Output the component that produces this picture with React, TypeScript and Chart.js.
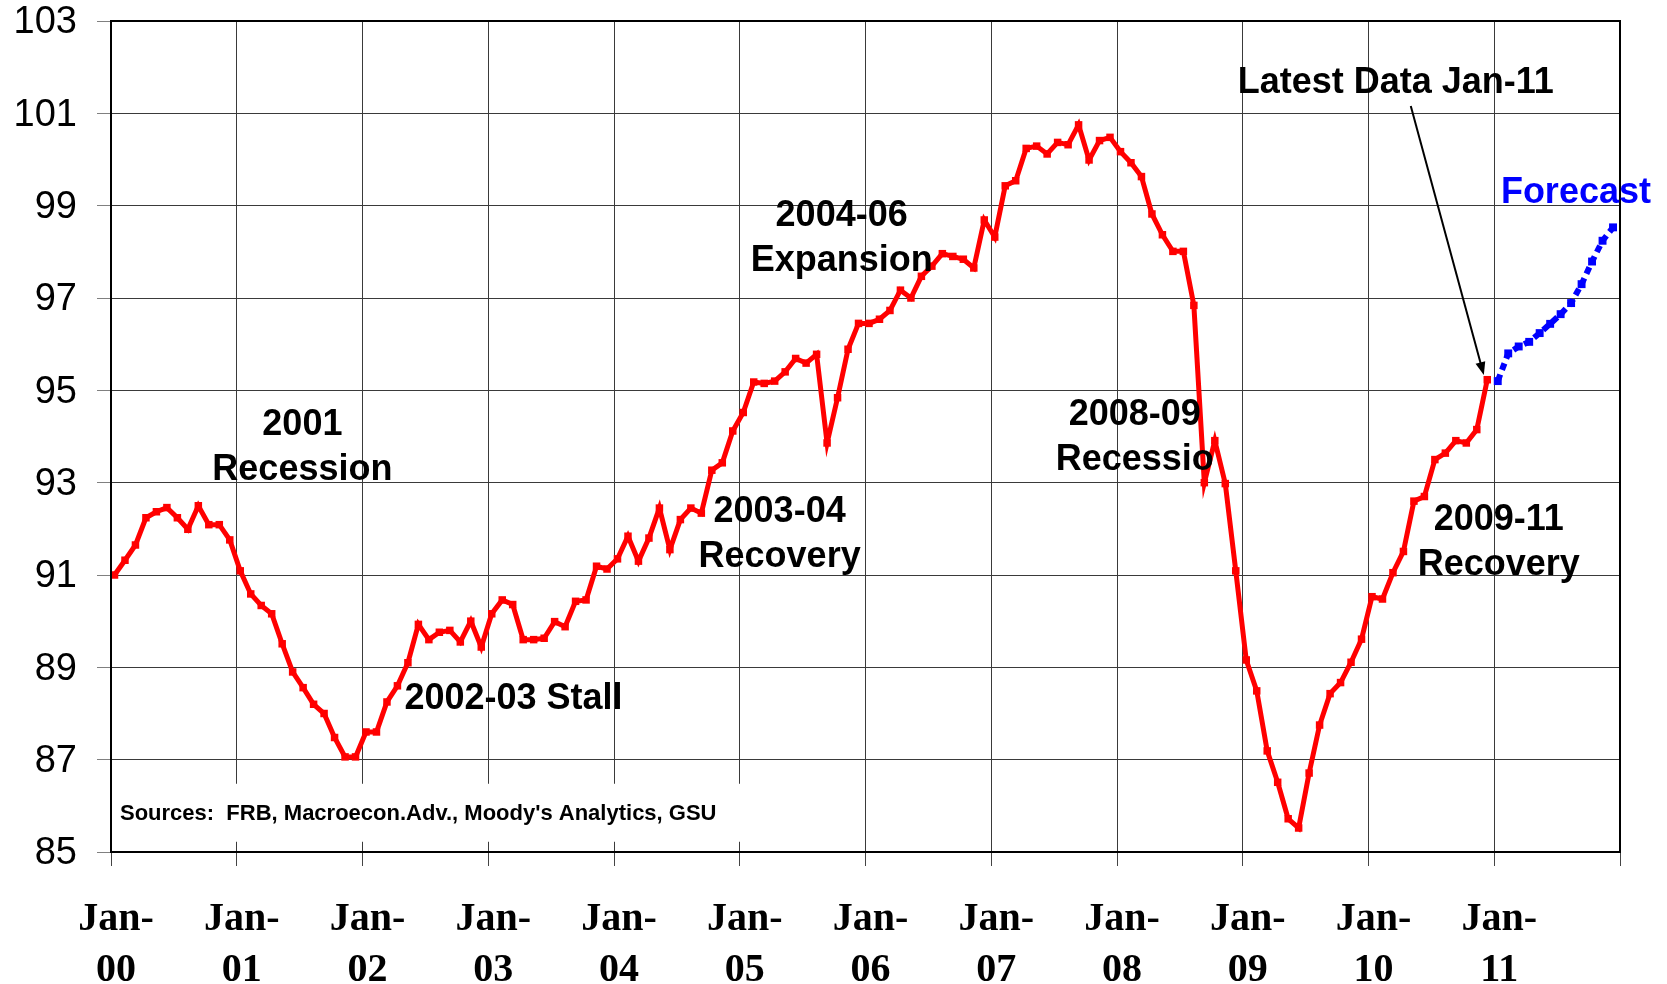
import { useEffect, useRef } from "react";
import { Chart, registerables } from "chart.js";

Chart.register(...registerables);

// Monthly index values, Jan-00 .. Dec-10
const ip2000 = [91.0, 91.32, 91.65, 92.24, 92.37, 92.46, 92.24, 91.99, 92.5, 92.09, 92.09, 91.76];
const ip2001 = [91.09, 90.59, 90.34, 90.16, 89.51, 88.9, 88.56, 88.2, 88.0, 87.48, 87.06, 87.06];
const ip2002 = [87.6, 87.6, 88.25, 88.6, 89.1, 89.93, 89.6, 89.76, 89.8, 89.55, 90.0, 89.44];
const ip2003 = [90.16, 90.46, 90.36, 89.6, 89.6, 89.63, 89.99, 89.88, 90.43, 90.46, 91.19, 91.13];
const ip2004 = [91.35, 91.84, 91.3, 91.8, 92.45, 91.55, 92.2, 92.45, 92.34, 93.27, 93.43, 94.12];
const ip2005 = [94.52, 95.18, 95.15, 95.2, 95.4, 95.69, 95.59, 95.78, 93.86, 94.84, 95.89, 96.45];
const ip2006 = [96.45, 96.54, 96.73, 97.17, 97.0, 97.47, 97.69, 97.96, 97.9, 97.84, 97.65, 98.69];
const ip2007 = [98.32, 99.43, 99.54, 100.24, 100.29, 100.12, 100.37, 100.32, 100.75, 99.99, 100.41, 100.48];
const ip2008 = [100.17, 99.93, 99.63, 98.82, 98.37, 98.01, 98.01, 96.84, 93.0, 93.91, 92.98, 91.09];
const ip2009 = [89.16, 88.49, 87.19, 86.51, 85.72, 85.52, 86.71, 87.75, 88.43, 88.67, 89.11, 89.61];
const ip2010 = [90.53, 90.48, 91.05, 91.51, 92.6, 92.7, 93.5, 93.64, 93.91, 93.86, 94.15, 95.23];

// Forecast, Jan-11 .. Dec-11
const forecast2011 = [95.2, 95.8, 95.95, 96.05, 96.24, 96.44, 96.65, 96.89, 97.3, 97.79, 98.24, 98.53];

const actualValues = [
  ...ip2000, ...ip2001, ...ip2002, ...ip2003, ...ip2004, ...ip2005,
  ...ip2006, ...ip2007, ...ip2008, ...ip2009, ...ip2010,
];

const yearLabels = ["00", "01", "02", "03", "04", "05", "06", "07", "08", "09", "10", "11"];
const yTickValues = [85, 87, 89, 91, 93, 95, 97, 99, 101, 103];

const sourceText = "Sources:  FRB, Macroecon.Adv., Moody's Analytics, GSU";

type Note = { lines: string[]; x: number; y: number; align: CanvasTextAlign; color: string };
const notes: Note[] = [
  { lines: ["2001", "Recession"], x: 17.93, y: 94.31, align: "center", color: "#000000" },
  { lines: ["2002-03 Stall"], x: 27.67, y: 88.38, align: "left", color: "#000000" },
  { lines: ["2003-04", "Recovery"], x: 63.47, y: 92.43, align: "center", color: "#000000" },
  { lines: ["2004-06", "Expansion"], x: 69.39, y: 98.85, align: "center", color: "#000000" },
  { lines: ["2008-09", "Recessio"], x: 97.36, y: 94.53, align: "center", color: "#000000" },
  { lines: ["2009-11", "Recovery"], x: 132.1, y: 92.26, align: "center", color: "#000000" },
  { lines: ["Latest Data Jan-11"], x: 122.27, y: 101.72, align: "center", color: "#000000" },
  { lines: ["Forecast"], x: 139.46, y: 99.34, align: "center", color: "#0000FF" },
];
const arrowFrom = { x: 123.7, y: 101.16 };
const arrowTo = { x: 130.67, y: 95.33 };
const sourceY = 85.85;

const SHIFT = 0.334; // plotted points sit slightly right of the January gridlines
const W = 1667;
const H = 984;

const overlay = {
  id: "overlay",
  beforeDatasetsDraw(chart: any) {
    const { ctx, chartArea, scales } = chart;
    ctx.save();
    ctx.font = 'bold 22px "Liberation Sans"';
    const y = scales.y.getPixelForValue(sourceY);
    const w = ctx.measureText(sourceText).width;
    ctx.fillStyle = "#ffffff";
    ctx.fillRect(chartArea.left + 2, y - 29, w + 40, 58);
    ctx.fillStyle = "#000000";
    ctx.textBaseline = "middle";
    ctx.textAlign = "left";
    ctx.fillText(sourceText, chartArea.left + 9, y + 1);
    ctx.restore();
  },
  afterDatasetsDraw(chart: any) {
    const { ctx, chartArea, scales } = chart;
    ctx.save();
    // frame
    ctx.strokeStyle = "#000000";
    ctx.lineWidth = 2;
    ctx.strokeRect(chartArea.left, chartArea.top, chartArea.right - chartArea.left, chartArea.bottom - chartArea.top);

    // notes
    ctx.font = 'bold 36px "Liberation Sans"';
    ctx.textBaseline = "middle";
    for (const n of notes) {
      ctx.fillStyle = n.color;
      ctx.textAlign = n.align;
      const px = scales.x.getPixelForValue(n.x);
      const py = scales.y.getPixelForValue(n.y) + 3;
      n.lines.forEach((line, i) => ctx.fillText(line, px, py + i * 45));
    }

    // arrow
    const x0 = scales.x.getPixelForValue(arrowFrom.x);
    const y0 = scales.y.getPixelForValue(arrowFrom.y);
    const x1 = scales.x.getPixelForValue(arrowTo.x);
    const y1 = scales.y.getPixelForValue(arrowTo.y);
    const ang = Math.atan2(y1 - y0, x1 - x0);
    const len = 13;
    const hw = 5;
    ctx.strokeStyle = "#000000";
    ctx.lineWidth = 2;
    ctx.beginPath();
    ctx.moveTo(x0, y0);
    ctx.lineTo(x1 - Math.cos(ang) * len * 0.8, y1 - Math.sin(ang) * len * 0.8);
    ctx.stroke();
    ctx.fillStyle = "#000000";
    ctx.beginPath();
    ctx.moveTo(x1, y1);
    ctx.lineTo(x1 - Math.cos(ang) * len - Math.sin(ang) * hw, y1 - Math.sin(ang) * len + Math.cos(ang) * hw);
    ctx.lineTo(x1 - Math.cos(ang) * len + Math.sin(ang) * hw, y1 - Math.sin(ang) * len - Math.cos(ang) * hw);
    ctx.closePath();
    ctx.fill();
    ctx.restore();
  },
};

export default function App() {
  const ref = useRef<HTMLCanvasElement | null>(null);

  useEffect(() => {
    if (!ref.current) return;
    const actualPoints = actualValues.map((v, i) => ({ x: i, y: v }));
    const forecastPoints = forecast2011.map((v, i) => ({ x: actualValues.length + i, y: v }));

    const chart = new Chart(ref.current, {
      type: "line",
      data: {
        datasets: [
          {
            label: "Actual",
            data: actualPoints,
            borderColor: "#FF0000",
            backgroundColor: "#FF0000",
            borderWidth: 5,
            pointStyle: "rect",
            pointRadius: 5.3,
            pointBorderWidth: 0,
            tension: 0,
          },
          {
            label: "Forecast",
            data: forecastPoints,
            borderColor: "#0000FF",
            backgroundColor: "#0000FF",
            borderWidth: 6,
            borderDash: [7, 5],
            borderCapStyle: "butt",
            pointStyle: "rect",
            pointRadius: 5.6,
            pointBorderWidth: 0,
            tension: 0,
          },
        ],
      },
      options: {
        animation: false,
        responsive: false,
        devicePixelRatio: 1,
        layout: { padding: { top: 21, right: 47, left: 0, bottom: 0 } },
        plugins: { legend: { display: false }, tooltip: { enabled: false } },
        scales: {
          x: {
            type: "linear",
            min: -SHIFT,
            max: 144 - SHIFT,
            afterBuildTicks: (s: any) => {
              s.ticks = [...yearLabels, ""].map((_, k) => ({ value: k * 12 - SHIFT }));
            },
            afterFit: (s: any) => {
              s.height = 132;
              s.paddingLeft = 0;
              s.paddingRight = 0;
            },
            ticks: {
              autoSkip: false,
              maxRotation: 0,
              minRotation: 0,
              padding: 28,
              labelOffset: 5,
              color: "#000000",
              font: { family: '"Liberation Serif"', weight: "bold", size: 40, lineHeight: 1.275 },
              callback: (_v: any, i: number) => (i < yearLabels.length ? ["Jan-", yearLabels[i]] : ""),
            },
            grid: { color: "#3a3a3a", lineWidth: 1, tickLength: 14, tickColor: "#444444" },
            border: { display: true, color: "#000000", width: 2 },
          },
          y: {
            type: "linear",
            min: 85,
            max: 103,
            afterBuildTicks: (s: any) => {
              s.ticks = yTickValues.map((v) => ({ value: v }));
            },
            afterFit: (s: any) => {
              s.width = 111;
              s.paddingTop = 0;
              s.paddingBottom = 0;
            },
            ticks: {
              padding: 20,
              labelOffset: 2,
              color: "#000000",
              font: { family: '"Liberation Sans"', size: 38 },
              callback: (v: any) => String(v),
            },
            grid: { color: "#3a3a3a", lineWidth: 1, tickLength: 14, tickColor: "#808080" },
            border: { display: true, color: "#000000", width: 2 },
          },
        },
      },
      plugins: [overlay],
    });
    return () => chart.destroy();
  }, []);

  return (
    <div style={{ position: "absolute", left: 0, top: 0, width: W, height: H, background: "#ffffff" }}>
      <canvas ref={ref} width={W} height={H} style={{ width: W, height: H, display: "block" }} />
    </div>
  );
}
